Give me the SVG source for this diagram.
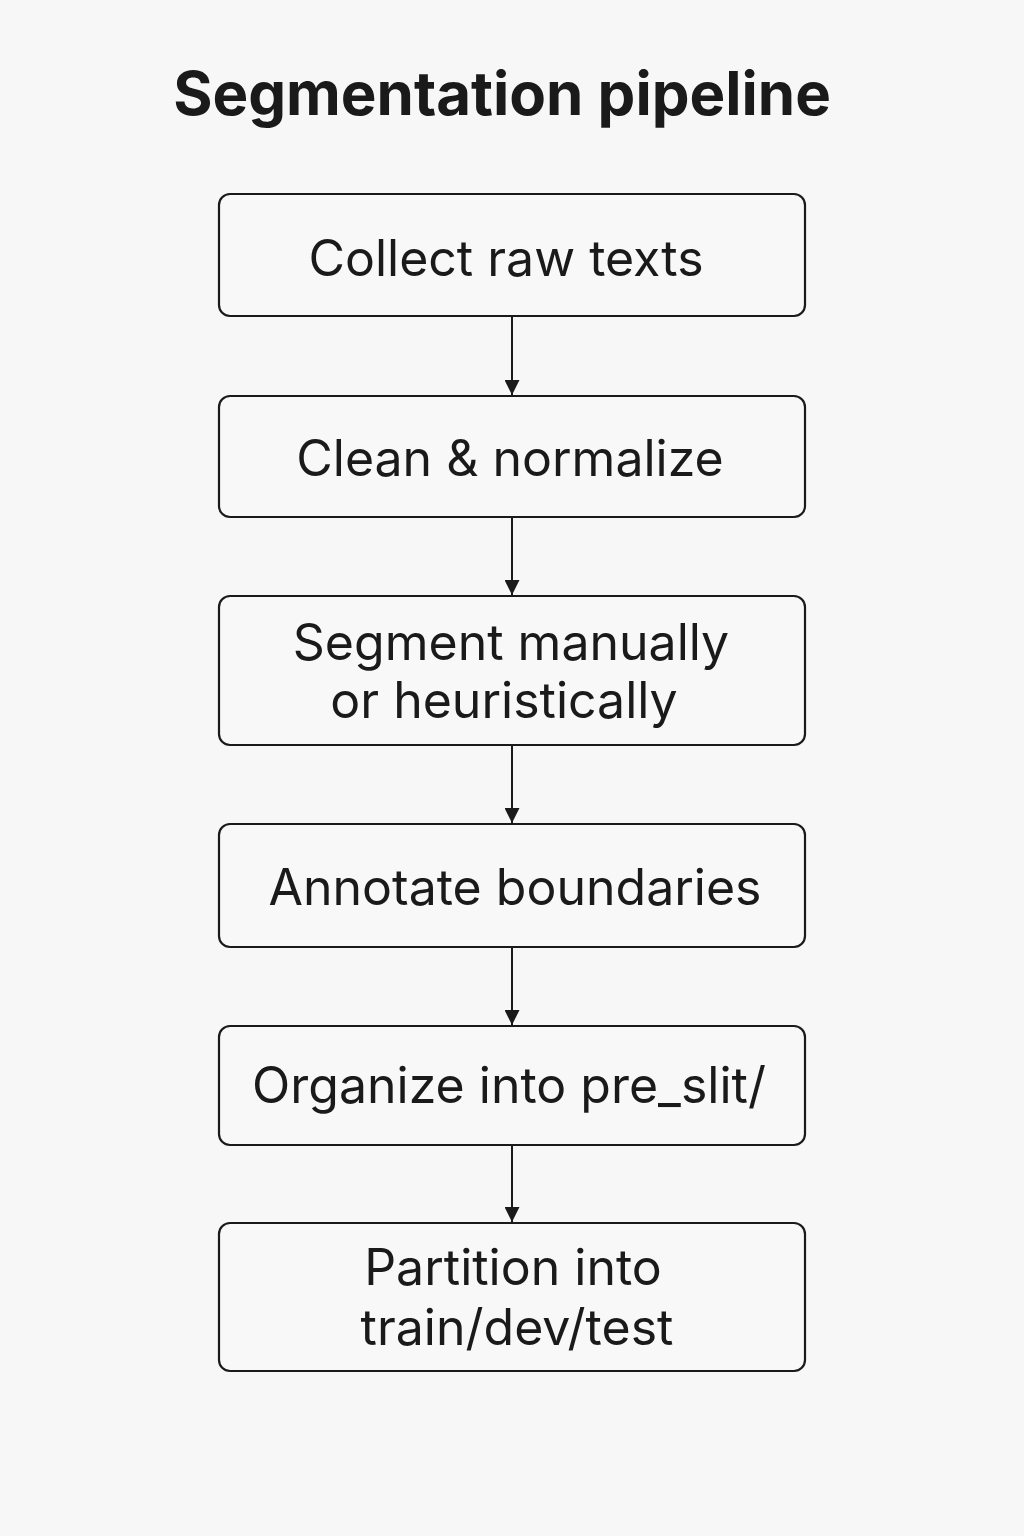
<svg xmlns="http://www.w3.org/2000/svg" width="1024" height="1536" viewBox="0 0 1024 1536">
<style>
.box{fill:#f8f8f8;stroke:#1a1a1a;stroke-width:2.2}
.t{font-family:Inter,"Noto Sans","Liberation Sans",sans-serif;font-size:50px;fill:#1a1a1a;text-anchor:middle}
.title{font-family:Inter,"Noto Sans","Liberation Sans",sans-serif;font-size:60px;font-weight:700;fill:#1a1a1a;text-anchor:middle}
.c{stroke:#1a1a1a;stroke-width:2;fill:none;marker-end:url(#ah)}
</style>
<defs>
<marker id="ah" viewBox="0 0 10 10" refX="10" refY="5" markerWidth="15" markerHeight="15" markerUnits="userSpaceOnUse" orient="auto">
<path d="M0,0 L10,5 L0,10 Z" fill="#1a1a1a"/>
</marker>
</defs>
<rect width="1024" height="1536" fill="#f7f7f7"/>
<text class="title" x="502" y="115">Segmentation pipeline</text>
<g id="connectors">
<line class="c" x1="512" y1="317" x2="512" y2="395"/>
<line class="c" x1="512" y1="518" x2="512" y2="595"/>
<line class="c" x1="512" y1="746" x2="512" y2="823"/>
<line class="c" x1="512" y1="948" x2="512" y2="1025"/>
<line class="c" x1="512" y1="1146" x2="512" y2="1222"/>
</g>
<g id="n1"><rect class="box" x="219" y="194" width="586" height="122" rx="11"/><text class="t" x="506" y="276">Collect raw texts</text></g>
<g id="n2"><rect class="box" x="219" y="396" width="586" height="121" rx="11"/><text class="t" x="510" y="476">Clean &amp; normalize</text></g>
<g id="n3"><rect class="box" x="219" y="596" width="586" height="149" rx="11"/><text class="t" x="511" y="660">Segment manually</text><text class="t" x="504" y="718">or heuristically</text></g>
<g id="n4"><rect class="box" x="219" y="824" width="586" height="123" rx="11"/><text class="t" x="515" y="905">Annotate boundaries</text></g>
<g id="n5"><rect class="box" x="219" y="1026" width="586" height="119" rx="11"/><text class="t" x="509" y="1103">Organize into pre_slit/</text></g>
<g id="n6"><rect class="box" x="219" y="1223" width="586" height="148" rx="11"/><text class="t" x="513" y="1285">Partition into</text><text class="t" x="517" y="1345">train/dev/test</text></g>
</svg>
